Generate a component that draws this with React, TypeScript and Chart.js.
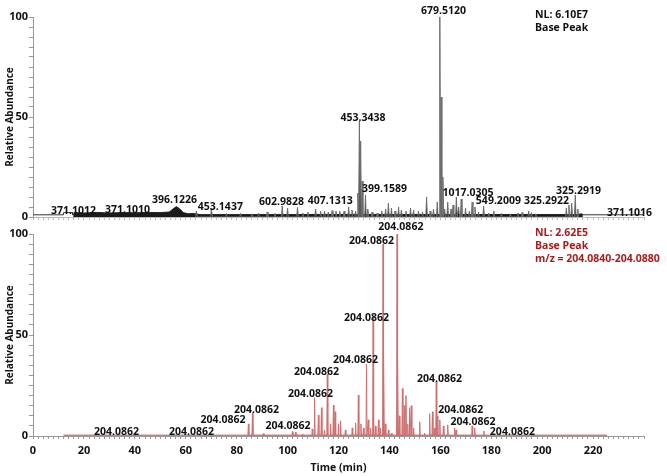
import React, { useEffect, useRef } from "react";
import { Chart, registerables } from "chart.js";

Chart.register(...registerables);

const FONT = "'Open Sans', 'Liberation Sans', sans-serif";

// ---------- x axis (time, min) ----------
const xMin = 0;
const xMax = 240;
const xStep = 2;
const xLabelEvery = 20;
const xLastLabel = 220;

// ---------- y axis (relative abundance, %) ----------
const yStep = 5;
const yLabelEvery = 50;

// ---------- TOP trace: Base Peak (NL 6.10E7) ----------
const topPeakTimes = [
  64.2, 70.1, 76, 81.5, 86, 88.6, 92, 95, 97.9, 100, 103.9, 106, 108, 111, 113, 114.5, 116,
  117.5, 119, 120.5, 122.2, 124, 125.3, 126.7, 127.6, 128.2, 128.7, 129.3, 130.6, 131.5, 133.2,
  135.2, 137, 138.5, 139.6, 140.8, 142.2, 143.6, 144.7, 146.5, 148.3, 149.5, 151.4, 153, 154.6,
  156, 157.3, 158.8, 159.8, 160.3, 161, 161.7, 162.9, 164.2, 165, 166.3, 167.2, 168.2, 169.9,
  171.4, 172.5, 173.6, 175, 177, 179, 181, 184, 187.5, 190.5, 192.1, 194.7, 195.8, 197.5,
  209.5, 210.5, 211.6, 213, 214,
];
const topPeakValues = [
  3, 4.5, 1.8, 1.8, 1.6, 2, 2.5, 1.8, 5.5, 4.5, 4.8, 2, 2.5, 4, 2.8, 3, 2.5,
  3.2, 3, 2.8, 3, 5, 3.5, 3, 12, 48, 38, 18, 11, 4, 2.5,
  2, 3, 4, 7, 4.5, 3, 5, 3.5, 3, 4.5, 3.5, 3, 2.5, 10,
  3, 4, 7.5, 100, 60, 20, 4, 7.5, 4, 6, 10, 5, 9, 4.5,
  3, 7.5, 5, 2.5, 5.5, 2, 3, 1.8, 1.6, 2, 2.2, 3, 2.2, 1.6,
  4.5, 6, 7, 11, 4,
];
// dense low-level background band of the top trace
const topBandTimes = [16, 16.2, 20, 25, 30, 35, 40, 45, 50, 53.5, 55, 56.3, 57.5, 59, 61, 63, 66, 120, 214, 215.5, 215.6];
const topBandValues = [0, 2.2, 2.0, 2.3, 2.0, 2.2, 2.1, 2.3, 2.2, 2.5, 4.0, 5.2, 4.2, 2.2, 1.6, 1.8, 1.1, 1.3, 1.2, 1.6, 0];
// thin baseline of the top trace
const topBaseTimes = [0, 12, 12, 15.6, 15.6, 239.6];
const topBaseValues = [1.1, 1.1, 2.2, 2.2, 1.1, 1.1];

const topLabelTimes = [15.9, 37.1, 55.6, 73.6, 97.6, 116.8, 129.6, 138.1, 161.2, 170.9, 182.8, 201.7, 214.3, 234.3];
const topLabelValues = [3, 3.5, 8.5, 5, 7.5, 8, 49.5, 14, 103, 12, 8, 8, 13, 2];
const topLabelTexts = [
  "371.1012", "371.1010", "396.1226", "453.1437", "602.9828", "407.1313", "453.3438",
  "399.1589", "679.5120", "1017.0305", "549.2009", "325.2922", "325.2919", "371.1016",
];
const topInfo = ["NL: 6.10E7", "Base Peak"];

// ---------- BOTTOM trace: m/z 204.0840-204.0880 (NL 2.62E5) ----------
const botPeakTimes = [
  84.6, 86.2, 90.5, 101.9, 103.1, 106, 109.7, 110.6, 112.1, 113.3, 114.5, 115.6, 116.9, 118,
  118.7, 120, 120.8, 122.7, 125.4, 126.7, 127.8, 128.8, 129.8, 131, 131.7, 132.6, 133.6, 134.5,
  135.7, 136.5, 137.5, 137.8, 138.4, 139.6, 140.8, 143, 143.3, 143.9, 145.1, 145.9, 146.5,
  147.2, 147.9, 148.6, 149.5, 151.9, 153.8, 155.8, 156.9, 157.7, 158.4, 159, 159.8, 161.2,
  162.9, 165.6, 166.2, 172.5, 173.5, 177.1,
];
const botPeakValues = [
  6, 11.4, 1.2, 2.2, 2, 1, 3.5, 19, 10.4, 14, 3, 30.7, 6, 15.3,
  12, 6, 7.5, 3, 4, 6.5, 20.3, 6, 4, 35.6, 8, 4, 58.4, 5,
  8, 4, 95, 40, 6, 3, 1.5, 100, 37, 10, 23.5, 15, 20,
  6, 14, 15, 4, 7, 1.5, 11, 12, 4, 27, 10, 8, 5,
  5.5, 4, 3, 5, 4, 2.5,
];
const botBaseTimes = [12, 225.5];
const botBaseValues = [0.4, 0.4];

const botLabelTimes = [32.8, 62.3, 74.6, 87.8, 100.2, 109, 111.4, 126.7, 131, 133, 144.5, 159.7, 168, 172.8, 188.3];
const botLabelValues = [2, 2, 7.9, 12.9, 5, 20.8, 31.7, 37.6, 58.4, 96.5, 103.5, 28.2, 12.9, 6.9, 2];
const botLabelTexts = Array.from({ length: botLabelTimes.length }, () => "204.0862");
const botInfo = ["NL: 2.62E5", "Base Peak", "m/z = 204.0840-204.0880"];

// ---------- helpers ----------
function spikePoints(times: number[], values: number[], half: number) {
  const pts: { x: number; y: number }[] = [];
  times.forEach((t, i) => {
    pts.push({ x: t - half, y: 0 }, { x: t, y: values[i] }, { x: t + half, y: 0 });
  });
  return pts;
}
function profilePoints(times: number[], values: number[]) {
  return times.map((t, i) => ({ x: t, y: values[i] }));
}

const annotPlugin = {
  id: "annot",
  afterDatasetsDraw(chart: any, _args: any, opts: any) {
    const { ctx, scales } = chart;
    const x = scales.x;
    const y = scales.y;
    ctx.save();
    ctx.font = `bold 10.5px ${FONT}`;
    ctx.fillStyle = "#111";
    ctx.textAlign = "center";
    ctx.textBaseline = "middle";
    opts.times.forEach((t: number, i: number) => {
      ctx.fillText(opts.texts[i], x.getPixelForValue(t), y.getPixelForValue(opts.values[i]));
    });
    ctx.textAlign = "left";
    ctx.fillStyle = opts.infoColor;
    opts.info.forEach((s: string, i: number) => {
      ctx.fillText(s, chart.width - 132, 15 + i * 13);
    });
    ctx.restore();
  },
};

function makeConfig(opts: {
  datasets: any[];
  showXLabels: boolean;
  padTop: number;
  xAxisHeight: number;
  axisColor: string;
  xTickColor: string;
  annot: any;
}) {
  return {
    type: "line",
    data: { datasets: opts.datasets },
    plugins: [annotPlugin],
    options: {
      animation: false,
      responsive: true,
      maintainAspectRatio: false,
      layout: { padding: { top: opts.padTop, right: 23, left: 0, bottom: 0 } },
      elements: { point: { radius: 0 }, line: { tension: 0 } },
      plugins: {
        legend: { display: false },
        tooltip: { enabled: false },
        annot: opts.annot,
      },
      scales: {
        x: {
          type: "linear",
          min: xMin,
          max: xMax,
          afterFit: (s: any) => {
            s.height = opts.xAxisHeight;
          },
          border: { color: opts.axisColor, width: 1 },
          grid: { drawOnChartArea: false, tickLength: 3, color: opts.xTickColor },
          ticks: {
            display: opts.showXLabels,
            stepSize: xStep,
            autoSkip: false,
            maxRotation: 0,
            padding: 5,
            color: "#111",
            font: { family: FONT, size: 11, weight: "bold" },
            callback: (v: number) => (v % xLabelEvery === 0 && v <= xLastLabel ? String(v) : ""),
          },
          title: {
            display: opts.showXLabels,
            text: "Time (min)",
            color: "#111",
            font: { family: FONT, size: 10.5, weight: "bold" },
            padding: { top: 0, bottom: 2 },
          },
        },
        y: {
          type: "linear",
          min: 0,
          max: 100,
          afterFit: (s: any) => {
            s.width = 33;
          },
          border: { color: "#999", width: 1 },
          grid: { drawOnChartArea: false, tickLength: 4, color: "#999" },
          ticks: {
            stepSize: yStep,
            autoSkip: false,
            padding: 1,
            color: "#111",
            font: { family: FONT, size: 11, weight: "bold" },
            callback: (v: number) => (v % yLabelEvery === 0 ? String(v) : ""),
          },
          title: {
            display: true,
            text: "Relative Abundance",
            color: "#111",
            font: { family: FONT, size: 10, weight: "bold" },
            padding: { top: 4, bottom: 0 },
          },
        },
      },
    },
  } as any;
}

export default function App() {
  const topRef = useRef<HTMLCanvasElement>(null);
  const botRef = useRef<HTMLCanvasElement>(null);

  useEffect(() => {
    const top = new Chart(
      topRef.current!,
      makeConfig({
        padTop: 17,
        xAxisHeight: 9,
        showXLabels: false,
        axisColor: "#bbb",
        xTickColor: "#bbb",
        datasets: [
          {
            data: spikePoints(topPeakTimes, topPeakValues, 0.3),
            borderColor: "#6e6e6e",
            backgroundColor: "#111",
            borderWidth: 1,
            fill: "origin",
          },
          {
            data: profilePoints(topBandTimes, topBandValues),
            borderColor: "#222",
            backgroundColor: "#1a1a1a",
            borderWidth: 1,
            fill: "origin",
          },
          {
            data: profilePoints(topBaseTimes, topBaseValues),
            borderColor: "#333",
            borderWidth: 1,
            fill: false,
          },
        ],
        annot: {
          times: topLabelTimes,
          values: topLabelValues,
          texts: topLabelTexts,
          info: topInfo,
          infoColor: "#111",
        },
      })
    );
    const bot = new Chart(
      botRef.current!,
      makeConfig({
        padTop: 16,
        xAxisHeight: 40,
        showXLabels: true,
        axisColor: "#999",
        xTickColor: "#999",
        datasets: [
          {
            data: spikePoints(botPeakTimes, botPeakValues, 0.2),
            borderColor: "#cc7070",
            borderWidth: 1,
            fill: false,
          },
          {
            data: profilePoints(botBaseTimes, botBaseValues),
            borderColor: "#b8403f",
            borderWidth: 1,
            fill: false,
          },
        ],
        annot: {
          times: botLabelTimes,
          values: botLabelValues,
          texts: botLabelTexts,
          info: botInfo,
          infoColor: "#a51d1d",
        },
      })
    );
    return () => {
      top.destroy();
      bot.destroy();
    };
  }, []);

  return (
    <div style={{ position: "absolute", left: 0, top: 0, width: 667, height: 476, background: "#fff" }}>
      <div style={{ position: "absolute", left: 0, top: 0, width: 667, height: 226 }}>
        <canvas ref={topRef} />
      </div>
      <div style={{ position: "absolute", left: 0, top: 218, width: 667, height: 258 }}>
        <canvas ref={botRef} />
      </div>
    </div>
  );
}
